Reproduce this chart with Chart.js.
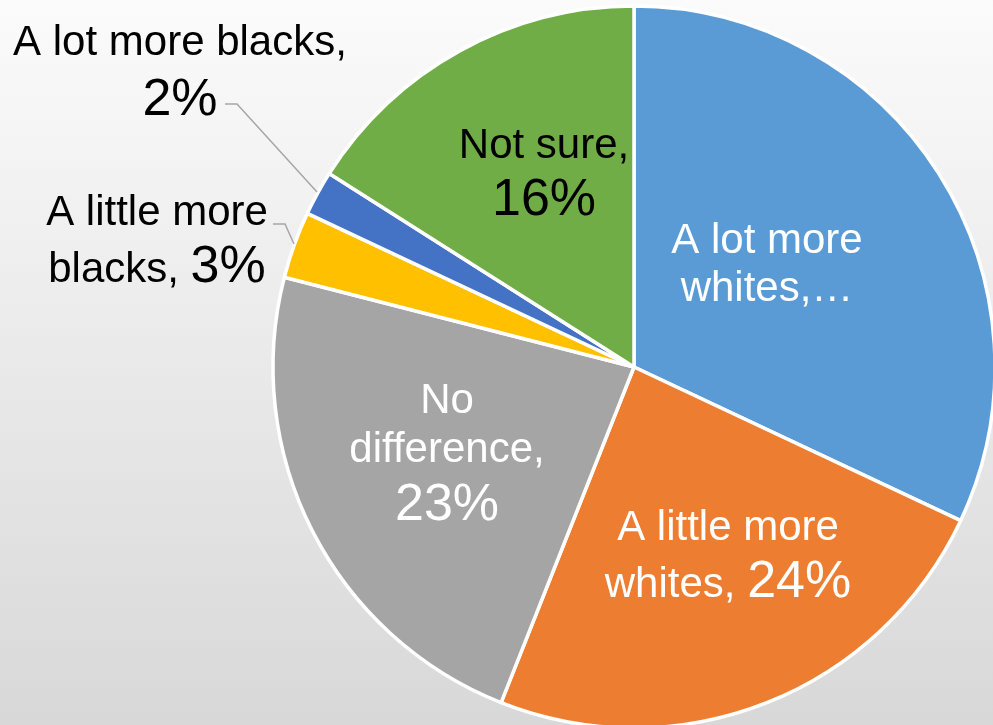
<!DOCTYPE html>
<html>
<head>
<meta charset="utf-8">
<script src="https://cdn.jsdelivr.net/npm/chart.js@4/dist/chart.umd.min.js"></script>
<style>
  html, body { margin: 0; padding: 0; width: 993px; height: 725px; overflow: hidden; }
  body { background: linear-gradient(to bottom, #fbfbfb 0%, #d8d8d8 100%); }
  #wrap { position: absolute; left: 0; top: 0; width: 1000px; height: 740px; }
</style>
</head>
<body>
<div id="wrap"><canvas id="c" width="1000" height="740"></canvas></div>
<script>
// Survey answers, clockwise from 12 o'clock
const categories = [
  'A lot more whites',
  'A little more whites',
  'No difference',
  'A little more blacks',
  'A lot more blacks',
  'Not sure'
];
const shares = [32, 24, 23, 3, 2, 16];
const sliceColors = ['#5B9BD5', '#ED7D31', '#A5A5A5', '#FFC000', '#4472C4', '#70AD47'];

const FONT = '"Liberation Sans", Arial, sans-serif';
const TEXT_PX = 42;
const VALUE_PX = 52;

// Label lines per slice: each line is a list of [text, isValue] pieces.
function labelLines(i) {
  const v = shares[i] + '%';
  switch (i) {
    case 0: return [[['A lot more', false]], [['whites,\u2026', false]]];
    case 1: return [[['A little more', false]], [['whites, ', false], [v, true]]];
    case 2: return [[['No', false]], [['difference,', false]], [[v, true]]];
    case 3: return [[['A little more', false]], [['blacks, ', false], [v, true]]];
    case 4: return [[['A lot more blacks,', false]], [[v, true]]];
    case 5: return [[['Not sure,', false]], [[v, true]]];
  }
}

// Label placement relative to the pie centre: centre x offset and baselines.
const labelPlacement = [
  { dx: 133, base: [-114, -66], color: '#ffffff' },
  { dx: 94, base: [173, 230], color: '#ffffff' },
  { dx: -187, base: [46, 95, 153], color: '#ffffff' },
  { dx: -477, base: [-142, -85], color: '#000000', leader: [[-361, -143], [-349, -143], [-340, -123]] },
  { dx: -454, base: [-312, -252], color: '#000000', leader: [[-409, -263], [-397, -263], [-317, -175]] },
  { dx: -90, base: [-209, -152], color: '#000000' }
];

const labelPlugin = {
  id: 'sliceLabels',
  afterDatasetsDraw(chart) {
    const ctx = chart.ctx;
    const arcs = chart.getDatasetMeta(0).data;
    ctx.save();
    arcs.forEach((arc, i) => {
      const cx = arc.x, cy = arc.y;
      const p = labelPlacement[i];
      if (p.leader) {
        ctx.beginPath();
        ctx.strokeStyle = '#a6a6a6';
        ctx.lineWidth = 1.5;
        p.leader.forEach((pt, k) => {
          if (k === 0) ctx.moveTo(cx + pt[0], cy + pt[1]);
          else ctx.lineTo(cx + pt[0], cy + pt[1]);
        });
        ctx.stroke();
      }
      ctx.fillStyle = p.color;
      ctx.textBaseline = 'alphabetic';
      ctx.textAlign = 'left';
      labelLines(i).forEach((line, li) => {
        let total = 0;
        const widths = line.map(([t, isVal]) => {
          ctx.font = (isVal ? VALUE_PX : TEXT_PX) + 'px ' + FONT;
          const w = ctx.measureText(t).width;
          total += w;
          return w;
        });
        let x = cx + p.dx - total / 2;
        const y = cy + p.base[li];
        line.forEach(([t, isVal], k) => {
          ctx.font = (isVal ? VALUE_PX : TEXT_PX) + 'px ' + FONT;
          ctx.fillText(t, x, y);
          x += widths[k];
        });
      });
    });
    ctx.restore();
  }
};

new Chart(document.getElementById('c'), {
  type: 'pie',
  data: {
    labels: categories,
    datasets: [{
      data: shares,
      backgroundColor: sliceColors,
      borderColor: '#ffffff',
      borderWidth: 3.5
    }]
  },
  options: {
    responsive: false,
    animation: false,
    radius: 361,
    layout: { padding: { left: 268, right: 0, top: 0, bottom: 6 } },
    plugins: {
      legend: { display: false },
      tooltip: { enabled: false }
    }
  },
  plugins: [labelPlugin]
});
</script>
</body>
</html>
